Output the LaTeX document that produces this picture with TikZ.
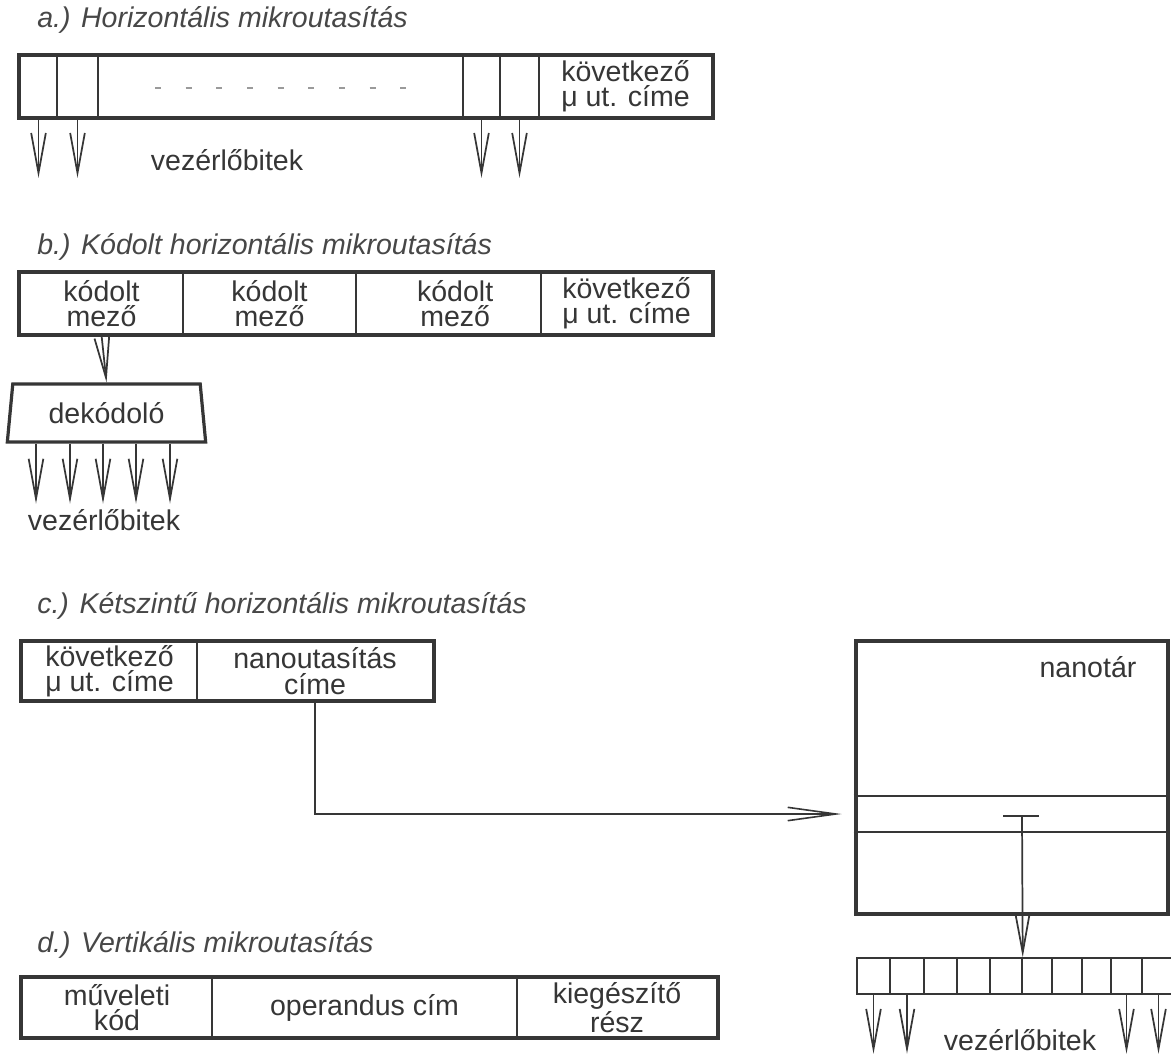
\documentclass[tikz,border=0pt]{standalone}
\usepackage{fontspec}
\setmainfont{Liberation Sans}
\usetikzlibrary{arrows.meta,fit,shapes.geometric}
\definecolor{ink}{HTML}{363636}
\definecolor{headink}{HTML}{474747}
\definecolor{dotgray}{HTML}{9A9A9A}
\begin{document}
\begin{tikzpicture}[x=0.75pt,y=-0.75pt,
  lbl/.style={text=ink, font=\fontsize{21.4}{19}\selectfont, inner sep=0pt, align=center},
  cell/.style={draw=ink, line width=1.2pt, inner sep=0pt},
  frame/.style={draw=ink, line width=2.6pt},
  heading/.style={anchor=west, inner sep=0pt, text=headink, font=\fontsize{21.4}{24}\selectfont\itshape},
  barrow/.style={draw=ink, line width=1.3pt, -{Straight Barb[length=30pt,width=11pt,line width=1.3pt]}},
  longbarrow/.style={draw=ink, line width=1.2pt, -{Straight Barb[length=36pt,width=10pt,line width=1.2pt]}},
 ]
\useasboundingbox (0,0) rectangle (1171,1057);
\fill[white] (0,0) rectangle (1171,1057);

% ---------- a) horizontal microinstruction ----------
\node[heading] (ta) at (37,20) {a.) Horizontális mikroutasítás};
\node[cell, fit={(20,56) (57,117)}] (a1) {};
\node[cell, fit={(57,56) (98,117)}] (a2) {};
\node[cell, fit={(98,56) (463,117)}] (adots) {};
\node[cell, fit={(463,56) (500,117)}] (a3) {};
\node[cell, fit={(500,56) (539,117)}] (a4) {};
\node[cell, fit={(539,56) (712,117)}] (anext) {};
\node[lbl] (anextt) at (anext) {következő\\μ ut. címe};
\draw[frame] (a1.north west) rectangle (anext.south east);
\draw[dotgray, line width=1pt, dash pattern=on 4.5pt off 18.5pt] (155,88) -- (410,88);
\foreach \c in {a1,a2,a3,a4}
  \draw[barrow] (\c.south) -- ++(0,60);
\node[lbl] (va) at (227,160) {vezérlőbitek};

% ---------- b) encoded horizontal microinstruction ----------
\node[heading] (tb) at (37,247) {b.) Kódolt horizontális mikroutasítás};
\node[cell, fit={(20,273) (183,334)}] (b1) {};
\node[cell, fit={(183,273) (356,334)}] (b2) {};
\node[cell, fit={(356,273) (541,334)}] (b3) {};
\node[cell, fit={(541,273) (712,334)}] (b4) {};
\node[lbl] (b1t) at (b1) {kódolt\\mező};
\node[lbl] (b2t) at (b2) {kódolt\\mező};
\node[lbl] (b3t) at ([xshift=5pt]b3.center) {kódolt\\mező};
\node[lbl] (b4t) at (b4) {következő\\μ ut. címe};
\draw[frame] (b1.north west) rectangle (b4.south east);
\node[lbl, draw=ink, line width=2.4pt, trapezium, trapezium stretches=true,
      trapezium left angle=81, trapezium right angle=81,
      minimum width=150pt, minimum height=43.5pt] (dec) at (106.5,413) {dekódoló};
\draw[barrow] (b1.south) -- (dec.north);
\foreach \x in {36,70,103,136,170}
  \draw[barrow] (\x,0 |- dec.south) -- ++(0,60);
\node[lbl] (vb) at (104,520) {vezérlőbitek};

% ---------- c) two-level horizontal microinstruction ----------
\node[heading] (tc) at (37,606) {c.) Kétszintű horizontális mikroutasítás};
\node[cell, fit={(22,642) (197,700)}] (c1) {};
\node[cell, fit={(197,642) (433,700)}] (c2) {};
\node[lbl] (c1t) at (c1) {következő\\μ ut. címe};
\node[lbl] (c2t) at (c2) {nanoutasítás\\címe};
\draw[frame] (c1.north west) rectangle (c2.south east);

% nano store
\node[cell, fit={(857,642) (1167,796)}] (n1) {};
\node[cell, fit={(857,796) (1167,832)}] (n2) {};
\node[cell, fit={(857,832) (1167,913)}] (n3) {};
\draw[frame] (n1.north west) rectangle (n3.south east);
\draw[ink, line width=1.2pt] ([xshift=-2pt]n2.north west) -- (n2.north west)
                             ([xshift=-2pt]n2.south west) -- (n2.south west);
\node[lbl] (nt) at (1088,667) {nanotár};
\draw[longbarrow, shorten >=11pt] (c2.south) |- (n2.west);

% control register
\foreach \i/\l/\r in {1/857/890,2/890/924,3/924/957,4/957/990,5/990/1022,
                      6/1022/1052,7/1052/1082,8/1082/1111,9/1111/1142,10/1142/1175}
  \node[cell, line width=1.1pt, fit={(\l,958) (\r,994)}] (r\i) {};
\coordinate (tee) at (1022,816);
\draw[ink, line width=1.2pt] ([xshift=-14pt]tee) -- ([xshift=13pt]tee);
\draw[barrow] (tee) -- (r5.north east);
\foreach \c in {r1,r2,r9,r10}
  \draw[barrow] (\c.south) -- ++(0,59);
\node[lbl] (vc) at (1020,1040) {vezérlőbitek};

% ---------- d) vertical microinstruction ----------
\node[heading] (td) at (37,945) {d.) Vertikális mikroutasítás};
\node[cell, fit={(22,978) (212,1037)}] (d1) {};
\node[cell, fit={(212,978) (517,1037)}] (d2) {};
\node[cell, fit={(517,978) (717,1037)}] (d3) {};
\node[lbl] (d1t) at (d1) {műveleti\\kód};
\node[lbl] (d2t) at (d2) {operandus cím};
\node[lbl] (d3t) at (d3) {kiegészítő\\rész};
\draw[frame] (d1.north west) rectangle (d3.south east);
\end{tikzpicture}
\end{document}
